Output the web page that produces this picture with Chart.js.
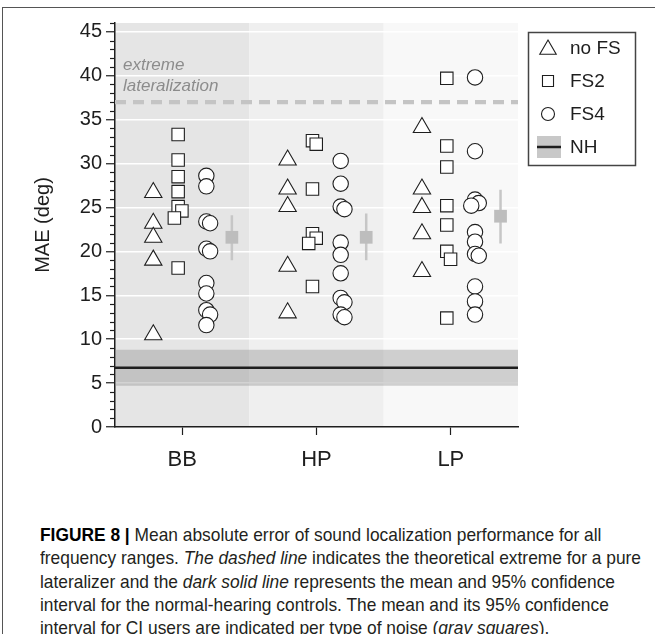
<!DOCTYPE html>
<html>
<head>
<meta charset="utf-8">
<title>Figure 8</title>
<script src="https://cdn.jsdelivr.net/npm/chart.js@4"></script>
<style>
  html, body { margin: 0; padding: 0; background: #fff; }
  body { width: 655px; height: 634px; position: relative; overflow: hidden; font-family: "Liberation Sans", Arial, sans-serif; }
  #frame { position: absolute; left: 2px; top: 7px; right: -2px; bottom: -2px; border-top: 1.5px solid #555; border-left: 1.5px solid #555; }
  #wrap { position: absolute; left: 0; top: 0; width: 655px; height: 500px; }
  #caption { position: absolute; left: 40px; top: 523px; font-size: 19px; line-height: 23.3px; color: #231f20; white-space: nowrap; transform-origin: 0 0; }
  #caption div { height: 23.3px; }
  #caption b { color: #000; }
</style>
</head>
<body>
<div id="frame"></div>
<div id="wrap"><canvas id="fig"></canvas></div>
<div id="caption">
  <div><b>FIGURE 8 |</b> Mean absolute error of sound localization performance for all</div>
  <div id="wideLine">frequency ranges. <i>The dashed line</i> indicates the theoretical extreme for a pure</div>
  <div>lateralizer and the <i>dark solid line</i> represents the mean and 95% confidence</div>
  <div>interval for the normal-hearing controls. The mean and its 95% confidence</div>
  <div>interval for CI users are indicated per type of noise (<i>gray squares</i>).</div>
</div>
<script>
// noise types on the x axis
const categories = ['BB', 'HP', 'LP'];

// individual CI users, MAE in degrees (one list per noise type)
const noFS = [
  [26.7, 23.2, 21.6, 19.0, 10.5],
  [30.4, 27.1, 25.1, 18.3, 13.0],
  [34.1, 27.1, 25.0, 22.0, 17.7]
];
const fs2 = [
  [33.3, 30.4, 28.5, 26.8, 25.1, 24.6, 23.8, 18.1],
  [32.6, 32.2, 27.1, 22.0, 21.5, 20.9, 16.0],
  [39.7, 32.0, 29.6, 25.2, 23.0, 20.0, 19.1, 12.4]
];
const fs4 = [
  [28.6, 27.4, 23.4, 23.2, 20.3, 20.0, 16.4, 15.2, 13.3, 12.8, 11.6],
  [30.3, 27.7, 25.1, 24.8, 21.0, 19.6, 17.5, 14.7, 14.2, 12.8, 12.5],
  [39.8, 31.4, 25.9, 25.5, 25.2, 22.2, 21.1, 19.7, 19.5, 16.0, 14.3, 12.8]
];

// CI group mean and 95% CI per noise type
const ciMean = [21.6, 21.6, 24.0];
const ciLow = [19.0, 19.0, 20.9];
const ciHigh = [24.1, 24.3, 27.0];

// normal hearing controls and the pure lateralizer level
const nhMean = 6.75;
const nhLow = 4.7;
const nhHigh = 8.8;
const extremeLevel = 37;

const yTicks = [0, 5, 10, 15, 20, 25, 30, 35, 40, 45];
const legendLabels = ['no FS', 'FS2', 'FS4', 'NH'];

// horizontal place of each group inside a category
const OFF = { noFS: -0.215, fs2: -0.03, fs4: 0.18, mean: 0.37 };
const XMIN = 0.5, XMAX = 3.5;

// put close values a little apart, like in the figure
function spread(lists, off) {
  const pts = [];
  lists.forEach((vals, c) => {
    const sorted = vals.slice().sort((a, b) => b - a);
    let prevV = null, prevD = 0;
    sorted.forEach(v => {
      let d = 0;
      if (prevV !== null && prevV - v < 1.0) d = prevD === 0 ? 0.028 : (prevD > 0 ? -0.028 : 0);
      prevV = v; prevD = d;
      pts.push({ x: c + 1 + off + d, y: v });
    });
  });
  return pts;
}

const errData = [];
ciMean.forEach((m, i) => {
  errData.push({ x: i + 1 + OFF.mean, y: ciLow[i] });
  errData.push({ x: i + 1 + OFF.mean, y: ciHigh[i] });
  errData.push({ x: i + 1 + OFF.mean, y: null });
});

const INK = '#1e1e1e';
const markerBase = { backgroundColor: '#fff', borderColor: INK, borderWidth: 1.1, order: 1 };

// background bands per noise type
const bandsPlugin = {
  id: 'bands',
  beforeDraw(chart) {
    const { ctx, chartArea: a, scales: { x } } = chart;
    const fills = ['#e5e5e5', '#efefef', '#f8f8f8'];
    ctx.save();
    categories.forEach((c, i) => {
      const l = x.getPixelForValue(i + 0.5), r = x.getPixelForValue(i + 1.5);
      ctx.fillStyle = fills[i];
      ctx.fillRect(l, a.top, r - l, a.bottom - a.top);
    });
    ctx.restore();
  }
};

// minor ticks every 1 deg, label for the dashed line, legend box
const extrasPlugin = {
  id: 'extras',
  afterDraw(chart) {
    const { ctx, chartArea: a, scales: { y } } = chart;
    ctx.save();
    ctx.strokeStyle = INK;
    ctx.lineWidth = 1.2;
    for (let v = 0; v <= 46; v++) {
      if (v % 5 === 0) continue;
      const py = Math.round(y.getPixelForValue(v)) + 0.5;
      ctx.beginPath();
      ctx.moveTo(a.left - 5, py);
      ctx.lineTo(a.left, py);
      ctx.stroke();
    }

    const ey = y.getPixelForValue(extremeLevel);
    ctx.fillStyle = '#8c8c8c';
    ctx.font = 'italic 17px "Liberation Sans", Arial, sans-serif';
    ctx.textBaseline = 'middle';
    ctx.fillText('extreme', a.left + 8, ey - 37);
    ctx.fillText('lateralization', a.left + 8, ey - 16);

    // legend
    ctx.strokeStyle = '#444';
    ctx.lineWidth = 1.5;
    ctx.strokeRect(528.5, 32.5, 107, 133);
    const rows = [48, 81, 114, 147];
    const styles = [
      { pointStyle: 'triangle', radius: 9.5 },
      { pointStyle: 'rect', radius: 7.8 },
      { pointStyle: 'circle', radius: 6.5 }
    ];
    styles.forEach((s, i) => {
      ctx.fillStyle = '#fff';
      ctx.strokeStyle = INK;
      ctx.lineWidth = 1.1;
      Chart.helpers.drawPoint(ctx, { pointStyle: s.pointStyle, radius: s.radius, rotation: 0, borderWidth: 1.1 }, 548, rows[i] + (i === 0 ? 1.5 : 0));
    });
    ctx.fillStyle = '#c8c8c8';
    ctx.fillRect(537, rows[3] - 11, 24, 22);
    ctx.strokeStyle = INK;
    ctx.lineWidth = 2.5;
    ctx.beginPath();
    ctx.moveTo(537, rows[3]);
    ctx.lineTo(561, rows[3]);
    ctx.stroke();
    ctx.fillStyle = INK;
    ctx.font = '19px "Liberation Sans", Arial, sans-serif';
    legendLabels.forEach((t, i) => ctx.fillText(t, 570, rows[i] + 1));
    ctx.restore();
  }
};

new Chart(document.getElementById('fig'), {
  type: 'scatter',
  data: {
    datasets: [
      { label: 'no FS', data: spread(noFS, OFF.noFS), pointStyle: 'triangle', pointRadius: 10, ...markerBase },
      { label: 'FS2', data: spread(fs2, OFF.fs2), pointStyle: 'rect', pointRadius: 8.8, ...markerBase },
      { label: 'FS4', data: spread(fs4, OFF.fs4), pointStyle: 'circle', pointRadius: 7.7, ...markerBase },
      { label: 'CI mean', data: ciMean.map((m, i) => ({ x: i + 1 + OFF.mean, y: m })), pointStyle: 'rect', pointRadius: 9, backgroundColor: '#bdbdbd', borderWidth: 0, order: 3 },
      { label: 'CI 95%', data: errData, showLine: true, spanGaps: false, pointRadius: 0, borderColor: '#c6c6c6', borderWidth: 2.5, order: 4 },
      { label: 'extreme', data: [{ x: XMIN, y: extremeLevel }, { x: XMAX, y: extremeLevel }], showLine: true, pointRadius: 0, borderColor: '#c4c4c4', borderWidth: 4.3, borderDash: [11, 7], order: 5 },
      { label: 'NH', data: [{ x: XMIN, y: nhMean }, { x: XMAX, y: nhMean }], showLine: true, pointRadius: 0, borderColor: INK, borderWidth: 2.5, order: 6 },
      { label: 'NH 95%', data: [{ x: XMIN, y: nhHigh }, { x: XMAX, y: nhHigh }], showLine: true, pointRadius: 0, borderWidth: 0, borderColor: 'rgba(0,0,0,0)', fill: { value: nhLow }, backgroundColor: 'rgba(140,140,140,0.38)', order: 10 }
    ]
  },
  options: {
    responsive: true,
    maintainAspectRatio: false,
    animation: false,
    events: [],
    layout: { padding: { left: 25, top: 23, right: 137, bottom: 0 } },
    plugins: { legend: { display: false }, tooltip: { enabled: false } },
    scales: {
      x: {
        type: 'linear',
        min: XMIN,
        max: XMAX,
        afterBuildTicks: s => { s.ticks = categories.map((c, i) => ({ value: i + 1 })); },
        afterFit: s => { s.height = 73; },
        ticks: {
          callback: v => categories[Math.round(v) - 1],
          font: { size: 22, family: '"Liberation Sans", Arial, sans-serif' },
          color: INK,
          padding: 12,
          maxRotation: 0
        },
        grid: { drawOnChartArea: false, tickLength: 8, tickColor: INK, tickWidth: 1.2 },
        border: { color: INK, width: 1.5 }
      },
      y: {
        min: 0,
        max: 46,
        afterBuildTicks: s => { s.ticks = yTicks.map(v => ({ value: v })); },
        afterFit: s => { s.width = 90; },
        ticks: {
          font: { size: 20, family: '"Liberation Sans", Arial, sans-serif' },
          color: INK,
          padding: 4
        },
        grid: {
          color: c => (c.tick && c.tick.value === 0) ? 'rgba(0,0,0,0)' : '#ffffff',
          lineWidth: 1.5,
          tickLength: 9,
          tickColor: INK,
          tickWidth: 1.2
        },
        border: { color: INK, width: 1.5 },
        title: {
          display: true,
          text: 'MAE (deg)',
          font: { size: 20, family: '"Liberation Sans", Arial, sans-serif' },
          color: INK,
          padding: { top: 6, bottom: 0 }
        }
      }
    }
  },
  plugins: [bandsPlugin, extrasPlugin]
});

// caption font is narrower than Arial, squeeze to the measured width
const cap = document.getElementById('caption');
const w = document.getElementById('wideLine').scrollWidth;
cap.style.transform = 'scaleX(' + (601 / w) + ')';
</script>
</body>
</html>
